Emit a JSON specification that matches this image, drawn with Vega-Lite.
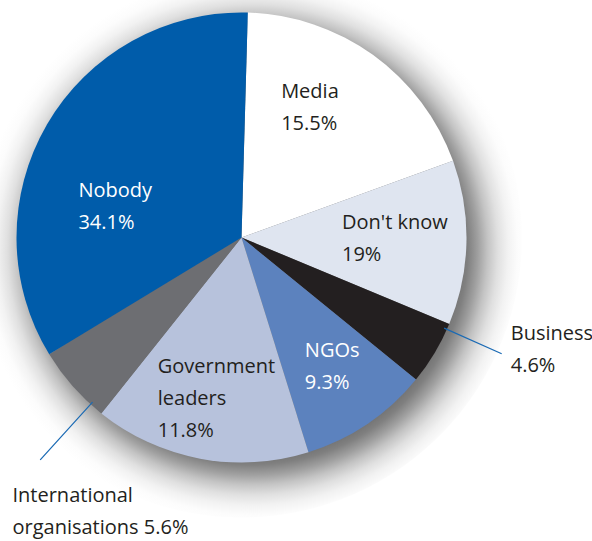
{
  "$schema": "https://vega.github.io/schema/vega-lite/v6.json",
  "width": 483,
  "height": 475,
  "autosize": {"type": "none"},
  "padding": {"left": 0, "top": 0, "right": 109, "bottom": 66},
  "background": "#ffffff",
  "config": {"view": {"stroke": null}, "text": {"font": "Open Sans", "fontSize": 20, "lineHeight": 32, "lineBreak": "\n", "align": "left", "baseline": "alphabetic"}},
  "data": {
    "values": [
      {"category": "Media", "label": "Media\n15.5%", "value": 19, "order": 1},
      {"category": "Don't know", "label": "Don't know\n19%", "value": 11.8, "order": 2},
      {"category": "Business", "label": "Business\n4.6%", "value": 4.6, "order": 3},
      {"category": "NGOs", "label": "NGOs\n9.3%", "value": 9.3, "order": 4},
      {"category": "Government leaders", "label": "Government\nleaders\n11.8%", "value": 15.5, "order": 5},
      {"category": "International organisations", "label": "International\norganisations 5.6%", "value": 5.6, "order": 6},
      {"category": "Nobody", "label": "Nobody\n34.1%", "value": 34.1, "order": 7}
    ]
  },
  "transform": [
    {"stack": "value", "groupby": [], "sort": [{"field": "order", "order": "ascending"}], "as": ["v0", "v1"]}
  ],
  "layer": [
    {
      "transform": [{"aggregate": [{"op": "min", "field": "v0", "as": "a0"}, {"op": "max", "field": "v1", "as": "a1"}]}],
      "mark": {
        "type": "arc",
        "radius": 280,
        "fill": {
          "gradient": "radial",
          "x1": 0.5196, "y1": 0.5214, "r1": 0,
          "x2": 0.5196, "y2": 0.5214, "r2": 0.5,
          "stops": [
            {"offset": 0, "color": "#707070"},
            {"offset": 0.732, "color": "#707070"},
            {"offset": 0.768, "color": "#808080"},
            {"offset": 0.804, "color": "#a0a0a0"},
            {"offset": 0.839, "color": "#c4c4c4"},
            {"offset": 0.875, "color": "#e0e0e0"},
            {"offset": 0.911, "color": "#f2f2f2"},
            {"offset": 0.946, "color": "#fcfcfc"},
            {"offset": 0.982, "color": "#ffffff"},
            {"offset": 1, "color": "#ffffff"}
          ]
        }
      },
      "encoding": {
        "theta": {"field": "a0", "type": "quantitative", "scale": {"domain": [0, 99.9], "range": [0.028, 6.3112]}},
        "theta2": {"field": "a1"}
      }
    },
    {
      "mark": {"type": "arc", "radius": 225},
      "encoding": {
        "theta": {"field": "v0", "type": "quantitative", "scale": {"domain": [0, 99.9], "range": [0.028, 6.3112]}},
        "theta2": {"field": "v1"},
        "color": {
          "field": "category", "type": "nominal", "legend": null,
          "scale": {
            "domain": ["Media", "Don't know", "Business", "NGOs", "Government leaders", "International organisations", "Nobody"],
            "range": ["#ffffff", "#dfe5f0", "#231f20", "#5c82be", "#b7c2dc", "#6d6e72", "#005caa"]
          }
        }
      }
    },
    {
      "transform": [{"filter": "datum.category === 'Business'"}],
      "mark": {"type": "arc", "radius": 222, "radius2": 285, "thetaOffset": 0.026, "theta2Offset": 0.026, "filled": false, "stroke": "#1a6ab4", "strokeWidth": 1.2},
      "encoding": {
        "theta": {"field": "v0", "type": "quantitative"},
        "theta2": {"field": "v0"}
      }
    },
    {
      "transform": [{"filter": "datum.category === 'International organisations'"}],
      "mark": {"type": "arc", "radius": 222, "radius2": 300, "thetaOffset": 0.0628, "theta2Offset": 0.0628, "filled": false, "stroke": "#1a6ab4", "strokeWidth": 1.2},
      "encoding": {
        "theta": {"field": "v0", "type": "quantitative"},
        "theta2": {"field": "v0"}
      }
    },
    {
      "mark": {"type": "text", "radius": 136, "dx": -40, "dy": -29, "fill": "#231f20"},
      "encoding": {
        "theta": {"field": "value", "type": "quantitative", "stack": true},
        "order": {"field": "order", "type": "quantitative"},
        "text": {"condition": {"test": "datum.category === 'Media'", "field": "label"}, "value": ""}
      }
    },
    {
      "mark": {"type": "text", "radius": 100, "dx": 0.5, "dy": -10.7, "fill": "#231f20"},
      "encoding": {
        "theta": {"field": "value", "type": "quantitative", "stack": true},
        "order": {"field": "order", "type": "quantitative"},
        "text": {"condition": {"test": "datum.category === \"Don't know\"", "field": "label"}, "value": ""}
      }
    },
    {
      "mark": {"type": "text", "radius": 284, "dx": 25.5, "dy": -43, "fill": "#231f20"},
      "encoding": {
        "theta": {"field": "value", "type": "quantitative", "stack": true},
        "order": {"field": "order", "type": "quantitative"},
        "text": {"condition": {"test": "datum.category === 'Business'", "field": "label"}, "value": ""}
      }
    },
    {
      "mark": {"type": "text", "radius": 134, "dx": -11.7, "dy": 8.6, "fill": "#ffffff"},
      "encoding": {
        "theta": {"field": "value", "type": "quantitative", "stack": true},
        "order": {"field": "order", "type": "quantitative"},
        "text": {"condition": {"test": "datum.category === 'NGOs'", "field": "label"}, "value": ""}
      }
    },
    {
      "mark": {"type": "text", "radius": 148, "dx": -56.5, "dy": -10, "fill": "#231f20"},
      "encoding": {
        "theta": {"field": "value", "type": "quantitative", "stack": true},
        "order": {"field": "order", "type": "quantitative"},
        "text": {"condition": {"test": "datum.category === 'Government leaders'", "field": "label"}, "value": ""}
      }
    },
    {
      "mark": {"type": "text", "radius": 347, "dx": 31.4, "dy": 35.6, "fill": "#231f20"},
      "encoding": {
        "theta": {"field": "value", "type": "quantitative", "stack": true},
        "order": {"field": "order", "type": "quantitative"},
        "text": {"condition": {"test": "datum.category === 'International organisations'", "field": "label"}, "value": ""}
      }
    },
    {
      "mark": {"type": "text", "radius": 162, "dx": -23, "dy": 40.5, "fill": "#ffffff"},
      "encoding": {
        "theta": {"field": "value", "type": "quantitative", "stack": true},
        "order": {"field": "order", "type": "quantitative"},
        "text": {"condition": {"test": "datum.category === 'Nobody'", "field": "label"}, "value": ""}
      }
    }
  ]
}
